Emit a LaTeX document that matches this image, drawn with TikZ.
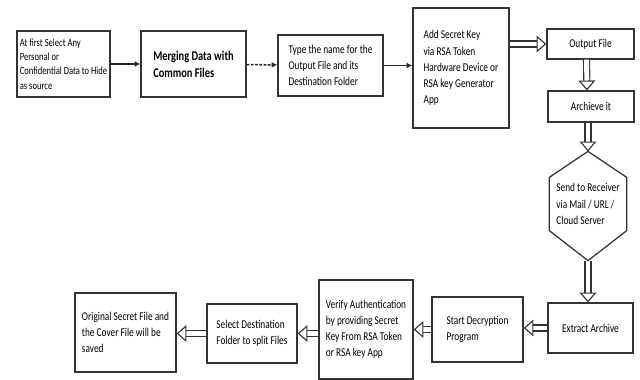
\documentclass[tikz,border=0pt]{standalone}
\usepackage{fontspec}
\setmainfont{Carlito}
\newfontfamily\narrowfont[FakeStretch=0.78]{Carlito}
\usetikzlibrary{arrows.meta}

\begin{document}
\begin{tikzpicture}[x=0.025cm,y=-0.025cm,>=Latex]
\tikzset{
    box/.style={%
        draw=black!80, line width=0.9pt,
        rectangle,
        align=left,
        inner sep=2pt,
        font=\narrowfont\fontsize{8.5}{11.5}\selectfont
        },
    thin/.style={%
        draw=black!85, line width=1.1pt,
        -{Latex[length=4pt,width=4pt]}
        },
    hollow/.style={%
        draw=black!80, double, double distance=3.5pt, line width=0.8pt,
        -{Triangle[open,length=7pt,width=12pt]}
        },
}
\useasboundingbox (0,0) rectangle (640,380);
%%%TOP ROW
\node[box, minimum width=2.325cm, minimum height=1.65cm, inner sep=1pt,
      font=\narrowfont\fontsize{7.8}{10.2}\selectfont] (b1) at (63.5,64)
    {At first Select Any\\Personal or\\Confidential Data to Hide\\as source};
\node[box, minimum width=2.625cm, minimum height=1.65cm,
      font=\narrowfont\bfseries\fontsize{9.5}{12}\selectfont] (b2) at (193.5,64)
    {Merging Data with\\Common Files};
\node[box, minimum width=2.625cm, minimum height=1.525cm] (b3) at (330.5,65.5)
    {Type the name for the\\Output File and its\\Destination Folder};
\node[box, minimum width=2.4cm, minimum height=3cm] (b4) at (461,68)
    {Add Secret Key\\via RSA Token\\Hardware Device or\\RSA key Generator\\App};
\node[box, minimum width=2.175cm, minimum height=0.75cm] (b5) at (590.5,44) {Output File};
\node[box, minimum width=2.15cm, minimum height=0.775cm] (b6) at (591,106.5) {Archieve it};
%%%SEND
\node[box, draw=none, minimum width=1.9cm, minimum height=1.3cm] (hx) at (588,204)
    {Send to Receiver\\via Mail / URL /\\Cloud Server};
\coordinate (ht) at ([yshift=0.65cm]hx.north);
\coordinate (hb) at ([yshift=-0.75cm]hx.south);
\draw[draw=black!80, line width=0.9pt] (ht) -- (hx.north east) -- (hx.south east)
    -- (hb) -- (hx.south west) -- (hx.north west) -- cycle;
%%%BOTTOM ROW
\node[box, minimum width=2.125cm, minimum height=1.25cm] (b7) at (590.5,328) {Extract Archive};
\node[box, minimum width=2.275cm, minimum height=1.625cm] (b8) at (477.5,329.5)
    {Start Decryption\\Program};
\node[box, minimum width=2.35cm, minimum height=2.475cm] (b9) at (366,329.5)
    {Verify Authentication\\by providing Secret\\Key From RSA Token\\or RSA key App};
\node[box, minimum width=2.25cm, minimum height=1.475cm] (b10) at (252,333.5)
    {Select Destination\\Folder to split Files};
\node[box, minimum width=2.525cm, minimum height=1.975cm] (b11) at (125.5,332.5)
    {Original Secret File and\\the Cover File will be\\saved};
%%%ARROWS
\draw[thin] (b1) -- (b2);
\draw[thin, dashed, dash pattern=on 2pt off 1pt] (b2) -- (b3);
\draw[thin] (b3.east) -- (b4.west |- b3.east);
\draw[hollow] (b4.east |- b5.west) -- (b5.west);
\draw[hollow] ([xshift=-0.1cm]b5.south) -- ([xshift=-0.1cm]b6.north);
\draw[hollow] (b6.south -| ht) -- (ht);
\draw[hollow] (hb) -- (b7.north -| hb);
\draw[hollow] (b7.west) -- (b8.east |- b7.west);
\draw[hollow] (b8.west |- b9.east) -- (b9.east);
\draw[hollow] (b9.west |- b10.east) -- (b10.east);
\draw[hollow] (b10.west) -- (b11.east |- b10.west);
\end{tikzpicture}
\end{document}
